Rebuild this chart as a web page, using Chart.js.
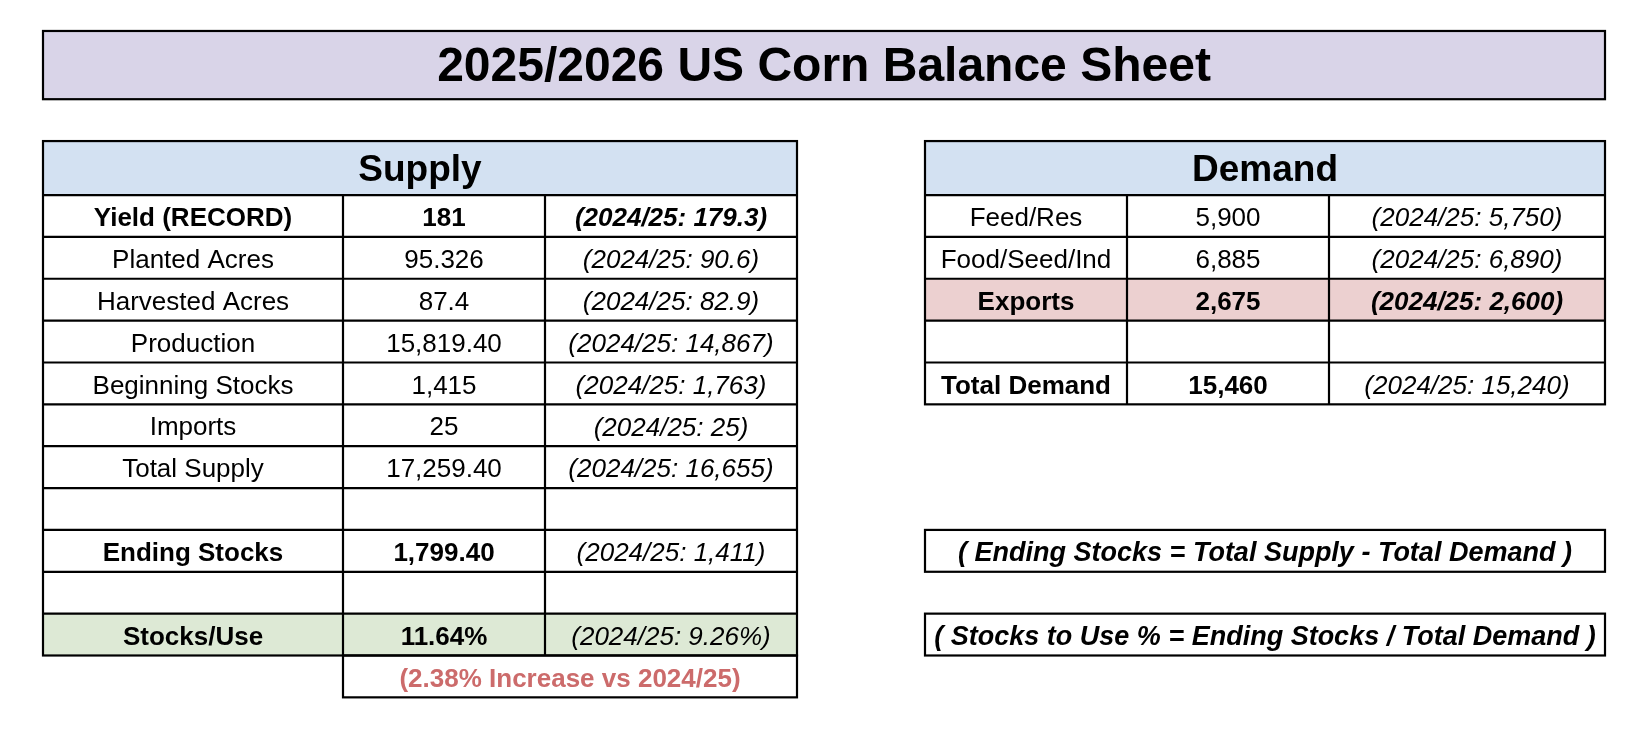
<!DOCTYPE html>
<html>
<head>
<meta charset="utf-8">
<script src="https://cdn.jsdelivr.net/npm/chart.js@4.4.1/dist/chart.umd.min.js"></script>
<style>
  html, body { margin: 0; padding: 0; background: #fff; }
  canvas { display: block; }
</style>
</head>
<body>
<canvas id="sheet" width="1634" height="730"></canvas>
<script>
const title = "2025/2026 US Corn Balance Sheet";
const priorYear = "2024/25";

const supplyLabels = ["Yield (RECORD)", "Planted Acres", "Harvested Acres", "Production", "Beginning Stocks",
  "Imports", "Total Supply", "", "Ending Stocks", "", "Stocks/Use"];
const supplyValues = [181, 95.326, 87.4, 15819.4, 1415, 25, 17259.4, null, 1799.4, null, 11.64];
const supplyDecimals = [0, 3, 1, 2, 0, 0, 2, 0, 2, 0, 2];
const supplyPrior = [179.3, 90.6, 82.9, 14867, 1763, 25, 16655, null, 1411, null, 9.26];
const supplyPriorDecimals = [1, 1, 1, 0, 0, 0, 0, 0, 0, 0, 2];
const stocksUseChange = 2.38;

const demandLabels = ["Feed/Res", "Food/Seed/Ind", "Exports", "", "Total Demand"];
const demandValues = [5900, 6885, 2675, null, 15460];
const demandPrior = [5750, 6890, 2600, null, 15240];

const formulas = [
  "( Ending Stocks = Total Supply - Total Demand )",
  "( Stocks to Use % = Ending Stocks / Total Demand )"
];

// layout: x in page columns, y in table rows (row 0 = first body row)
const supplyCols = [43, 343, 545, 797];
const demandCols = [925, 1127, 1329, 1605];
const titleRows = [-3.92, -2.29];
const headerTop = -1.29;
const formulaRows = [8, 10];

// row styles: "all" = whole row bold, "main" = label + value bold
const supplyStyle = ["all", "", "", "", "", "", "", "", "main", "", "main"];
const supplyFill = [null, null, null, null, null, null, null, null, null, null, "#dde9d5"];
const demandStyle = ["", "", "all", "", "main"];
const demandFill = [null, null, "#ecd0d0", null, null];

const FONT = '"Liberation Sans", Arial, sans-serif';

function fmt(v, d) {
  return v.toLocaleString("en-US", { minimumFractionDigits: d, maximumFractionDigits: d });
}

const tablePlugin = {
  id: "balanceSheet",
  afterDraw(chart) {
    const { ctx, scales: { x, y } } = chart;
    const px = v => x.getPixelForValue(v);
    const py = v => y.getPixelForValue(v);

    function box(x0, x1, r0, r1, fill) {
      if (fill) {
        ctx.fillStyle = fill;
        ctx.fillRect(px(x0), py(r0), px(x1) - px(x0), py(r1) - py(r0));
      }
    }
    function line(x0, y0, x1, y1) {
      ctx.beginPath();
      ctx.moveTo(px(x0), py(y0));
      ctx.lineTo(px(x1), py(y1));
      ctx.stroke();
    }
    function frame(x0, x1, r0, r1) {
      ctx.strokeRect(px(x0), py(r0), px(x1) - px(x0), py(r1) - py(r0));
    }
    function text(str, xc, yc, font, color) {
      ctx.font = font;
      ctx.fillStyle = color || "#000";
      ctx.textAlign = "center";
      ctx.textBaseline = "middle";
      ctx.fillText(str, px(xc), py(yc) + 3);
    }

    ctx.save();

    // title band
    box(supplyCols[0], demandCols[3], titleRows[0], titleRows[1], "#d9d4e8");
    text(title, (supplyCols[0] + demandCols[3]) / 2, (titleRows[0] + titleRows[1]) / 2, "bold 48px " + FONT);

    function drawTable(cols, heading, labels, values, decimals, prior, priorDec, style, fills, pctRow) {
      box(cols[0], cols[3], headerTop, 0, "#d3e1f2");
      text(heading, (cols[0] + cols[3]) / 2, headerTop / 2, "bold 37px " + FONT);
      labels.forEach((lab, i) => {
        box(cols[0], cols[3], i, i + 1, fills[i]);
        const all = style[i] === "all";
        const main = all || style[i] === "main";
        const yc = i + 0.5;
        const pct = i === pctRow ? "%" : "";
        text(lab, (cols[0] + cols[1]) / 2, yc, (main ? "bold " : "") + "26px " + FONT);
        if (values[i] !== null) {
          text(fmt(values[i], decimals[i]) + pct, (cols[1] + cols[2]) / 2, yc, (main ? "bold " : "") + "26px " + FONT);
        }
        if (prior[i] !== null) {
          text("(" + priorYear + ": " + fmt(prior[i], priorDec[i]) + pct + ")", (cols[2] + cols[3]) / 2, yc,
            "italic " + (all ? "bold " : "") + "26px " + FONT);
        }
      });
      ctx.strokeStyle = "#000";
      ctx.lineWidth = 2.2;
      for (let r = 0; r < labels.length; r++) line(cols[0], r, cols[3], r);
      line(cols[1], 0, cols[1], labels.length);
      line(cols[2], 0, cols[2], labels.length);
      frame(cols[0], cols[3], headerTop, labels.length);
    }

    const zeros = demandLabels.map(() => 0);
    drawTable(supplyCols, "Supply", supplyLabels, supplyValues, supplyDecimals, supplyPrior,
      supplyPriorDecimals, supplyStyle, supplyFill, supplyLabels.indexOf("Stocks/Use"));
    drawTable(demandCols, "Demand", demandLabels, demandValues, zeros, demandPrior,
      zeros, demandStyle, demandFill, -1);

    // change note under stocks/use
    const noteRow = supplyLabels.length;
    text("(" + stocksUseChange + "% Increase vs " + priorYear + ")", (supplyCols[1] + supplyCols[3]) / 2,
      noteRow + 0.5, "bold 26px " + FONT, "#cc6b6b");
    frame(supplyCols[1], supplyCols[3], noteRow, noteRow + 1);

    // formula boxes
    formulas.forEach((f, k) => {
      const r = formulaRows[k];
      text(f, (demandCols[0] + demandCols[3]) / 2, r + 0.5, "italic bold 27px " + FONT);
      frame(demandCols[0], demandCols[3], r, r + 1);
    });

    // title frame
    frame(supplyCols[0], demandCols[3], titleRows[0], titleRows[1]);
    ctx.restore();
  }
};

new Chart(document.getElementById("sheet").getContext("2d"), {
  type: "scatter",
  data: { datasets: [] },
  options: {
    responsive: false,
    animation: false,
    layout: { padding: 0 },
    plugins: { legend: { display: false }, tooltip: { enabled: false } },
    scales: {
      x: { type: "linear", display: false, min: 0, max: 1634 },
      y: { type: "linear", display: false, reverse: true, min: -4.66, max: 12.78 }
    }
  },
  plugins: [tablePlugin]
});
</script>
</body>
</html>
